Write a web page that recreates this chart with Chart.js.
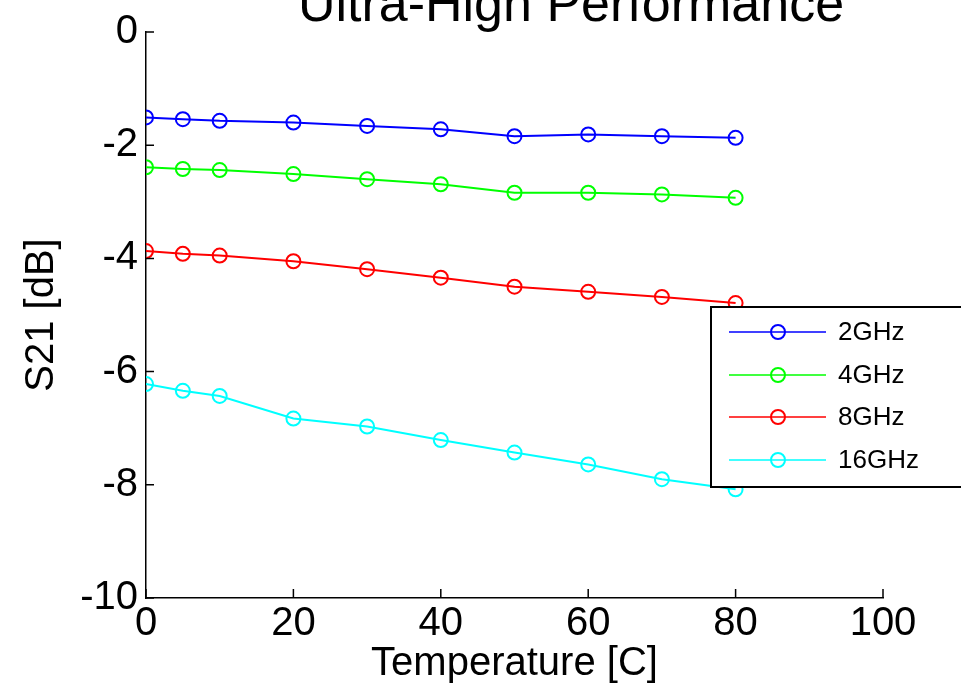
<!DOCTYPE html>
<html>
<head>
<meta charset="utf-8">
<script src="https://cdn.jsdelivr.net/npm/chart.js@4"></script>
<style>
  html, body { margin: 0; padding: 0; background: #fff; overflow: hidden; }
  #wrap { width: 961px; height: 688px; }
</style>
</head>
<body>
<div id="wrap"><canvas id="myChart" width="961" height="688"></canvas></div>
<script>
// temperatures in C
const temps = [0, 5, 10, 20, 30, 40, 50, 60, 70, 80];
// S21 [dB] per frequency
const s21_2GHz  = [-1.51, -1.54, -1.57, -1.60, -1.66, -1.72, -1.84, -1.81, -1.84, -1.87];
const s21_4GHz  = [-2.39, -2.42, -2.44, -2.51, -2.60, -2.69, -2.84, -2.84, -2.87, -2.93];
const s21_8GHz  = [-3.87, -3.92, -3.95, -4.05, -4.19, -4.34, -4.50, -4.59, -4.68, -4.79];
const s21_16GHz = [-6.22, -6.34, -6.43, -6.83, -6.97, -7.21, -7.43, -7.64, -7.90, -8.08];
const seriesNames = ['2GHz', '4GHz', '8GHz', '16GHz'];
const seriesColors = ['#0000ff', '#00ff00', '#ff0000', '#00ffff'];
const xTicks = [0, 20, 40, 60, 80, 100];
const yTicks = [0, -2, -4, -6, -8, -10];

const FONT = '"Liberation Sans", Arial, Helvetica, sans-serif';
Chart.defaults.font.family = FONT;
Chart.defaults.color = '#000';

function makeSet(name, vals, color) {
  return {
    label: name,
    data: temps.map((t, i) => ({ x: t, y: vals[i] })),
    borderColor: color,
    backgroundColor: 'rgba(0,0,0,0)',
    borderWidth: 2,
    pointRadius: 7,
    pointBorderWidth: 2,
    pointStyle: 'circle',
    pointBackgroundColor: 'rgba(0,0,0,0)',
    pointBorderColor: color,
    tension: 0
  };
}

const allVals = [s21_2GHz, s21_4GHz, s21_8GHz, s21_16GHz];
const data = {
  datasets: seriesNames.map((n, i) => makeSet(n, allVals[i], seriesColors[i]))
};

// matlab style inward ticks
const inwardTicks = {
  id: 'inwardTicks',
  afterDatasetsDraw(chart) {
    const c = chart.ctx, xs = chart.scales.x, ys = chart.scales.y;
    c.save();
    c.strokeStyle = '#000';
    c.lineWidth = 1.5;
    c.beginPath();
    xTicks.forEach(v => {
      const px = xs.getPixelForValue(v);
      c.moveTo(px, ys.bottom);
      c.lineTo(px, ys.bottom - 9);
    });
    yTicks.forEach(v => {
      const py = ys.getPixelForValue(v);
      c.moveTo(xs.left, py);
      c.lineTo(xs.left + 8, py);
    });
    c.stroke();
    c.restore();
  }
};

// title sits partly above the canvas
const topTitle = {
  id: 'topTitle',
  afterDraw(chart) {
    const c = chart.ctx;
    c.save();
    c.font = '52px ' + FONT;
    c.fillStyle = '#000';
    c.textAlign = 'center';
    c.textBaseline = 'alphabetic';
    c.fillText('Ultra-High Performance', 571, 21);
    c.restore();
  }
};

// boxed legend like the original figure
const boxLegend = {
  id: 'boxLegend',
  afterDraw(chart) {
    const c = chart.ctx;
    const rows = [332, 375, 417, 460];
    c.save();
    c.fillStyle = '#fff';
    c.fillRect(711, 307, 260, 180);
    c.strokeStyle = '#000';
    c.lineWidth = 2;
    c.strokeRect(711, 307, 260, 180);
    chart.data.datasets.forEach((ds, i) => {
      const y = rows[i];
      c.strokeStyle = ds.borderColor;
      c.lineWidth = 1.5;
      c.beginPath();
      c.moveTo(729, y);
      c.lineTo(826, y);
      c.stroke();
      c.lineWidth = 2;
      c.beginPath();
      c.arc(778, y, 7, 0, Math.PI * 2);
      c.stroke();
      c.fillStyle = '#000';
      c.font = '26px ' + FONT;
      c.textAlign = 'left';
      c.textBaseline = 'middle';
      c.fillText(ds.label, 838, y + 1);
    });
    c.restore();
  }
};

const config = {
  type: 'line',
  data: data,
  options: {
    responsive: false,
    animation: false,
    layout: { padding: { top: 32, right: 78, left: 0, bottom: 0 } },
    plugins: {
      legend: { display: false },
      tooltip: { enabled: false },
      title: { display: false }
    },
    scales: {
      x: {
        type: 'linear',
        min: 0, max: 100,
        afterBuildTicks: s => { s.ticks = xTicks.map(v => ({ value: v })); },
        afterFit: s => { s.height = 90; },
        grid: { display: false, drawTicks: false },
        border: { display: true, color: '#000', width: 1.5 },
        ticks: { font: { size: 40 }, padding: 2, maxRotation: 0 },
        title: { display: true, text: 'Temperature [C]', font: { size: 40 }, padding: { top: 0, bottom: 0 } }
      },
      y: {
        type: 'linear',
        min: -10, max: 0,
        afterBuildTicks: s => { s.ticks = yTicks.map(v => ({ value: v })); },
        afterFit: s => { s.width = 146; },
        grid: { display: false, drawTicks: false },
        border: { display: true, color: '#000', width: 1.5 },
        ticks: { font: { size: 40 }, padding: 8 },
        title: { display: true, text: 'S21 [dB]', font: { size: 40 }, padding: { top: 18, bottom: 0 } }
      }
    }
  },
  plugins: [inwardTicks, topTitle, boxLegend]
};

const ctx = document.getElementById('myChart').getContext('2d');
const myChart = new Chart(ctx, config);
</script>
</body>
</html>
